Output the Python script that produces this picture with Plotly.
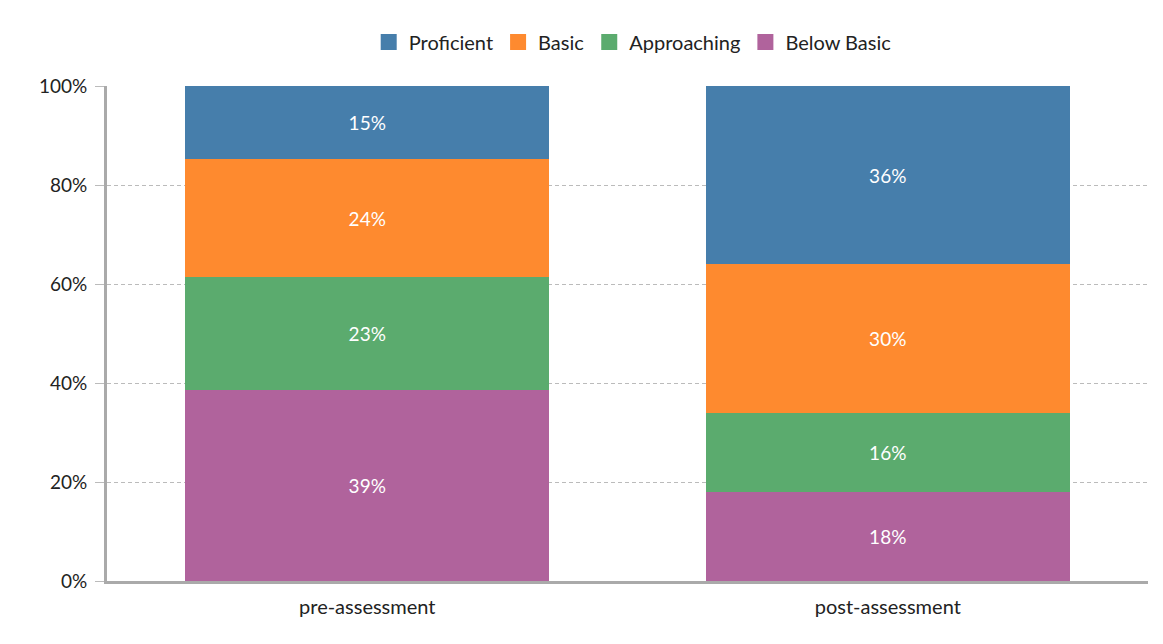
import plotly.graph_objects as go

categories = ["pre-assessment", "post-assessment"]
series_names = ["Below Basic", "Approaching", "Basic", "Proficient"]
below_basic = [38.6, 18.0]
approaching = [22.8, 15.9]
basic = [23.85, 30.1]
proficient = [14.75, 36.0]
labels_below = ["39%", "18%"]
labels_approaching = ["23%", "16%"]
labels_basic = ["24%", "30%"]
labels_proficient = ["15%", "36%"]
colors = ["#b0639c", "#5bab6e", "#fe8a2f", "#467eab"]

values = [below_basic, approaching, basic, proficient]
labels = [labels_below, labels_approaching, labels_basic, labels_proficient]

fig = go.Figure()
for name, vals, txt, col in zip(series_names, values, labels, colors):
    fig.add_trace(go.Bar(
        x=categories, y=vals, name=name, text=txt,
        textposition="inside", insidetextanchor="middle",
        textfont=dict(color="white", size=19, family="Lato"),
        marker=dict(color=col, line=dict(width=0)),
        hoverinfo="skip", showlegend=False,
    ))

# legend entries (square swatches), top-down order
for name, col in reversed(list(zip(series_names, colors))):
    fig.add_trace(go.Scatter(
        x=[None], y=[None], mode="markers", name=name,
        marker=dict(symbol="square", size=16, color=col),
        showlegend=True, hoverinfo="skip",
    ))

fig.update_layout(
    barmode="stack",
    bargap=0.3,
    width=1147, height=628,
    margin=dict(l=99, r=7, t=78, b=55),
    paper_bgcolor="white", plot_bgcolor="white",
    font=dict(family="Lato", size=19, color="#222"),
    legend=dict(orientation="h", traceorder="normal", x=0.505, xanchor="center",
                y=1.089, yanchor="middle", font=dict(size=20, family="Lato"),
                itemwidth=30),
    xaxis=dict(showline=True, linecolor="#aaaaaa", linewidth=3,
               ticks="outside", ticklen=6, tickcolor="rgba(0,0,0,0)",
               tickfont=dict(size=20), showgrid=False),
    yaxis=dict(range=[0, 100], tickvals=[0, 20, 40, 60, 80, 100],
               ticktext=["0%", "20%", "40%", "60%", "80%", "100%"],
               showline=True, linecolor="#aaaaaa", linewidth=3,
               ticks="outside", ticklen=9, tickcolor="#bbbbbb", tickwidth=1,
               ticklabelstandoff=4,
               showgrid=True, gridcolor="#bbbbbb", gridwidth=1, griddash="4px,3px",
               zeroline=False, tickfont=dict(size=19)),
)

fig.write_html("out.html")
